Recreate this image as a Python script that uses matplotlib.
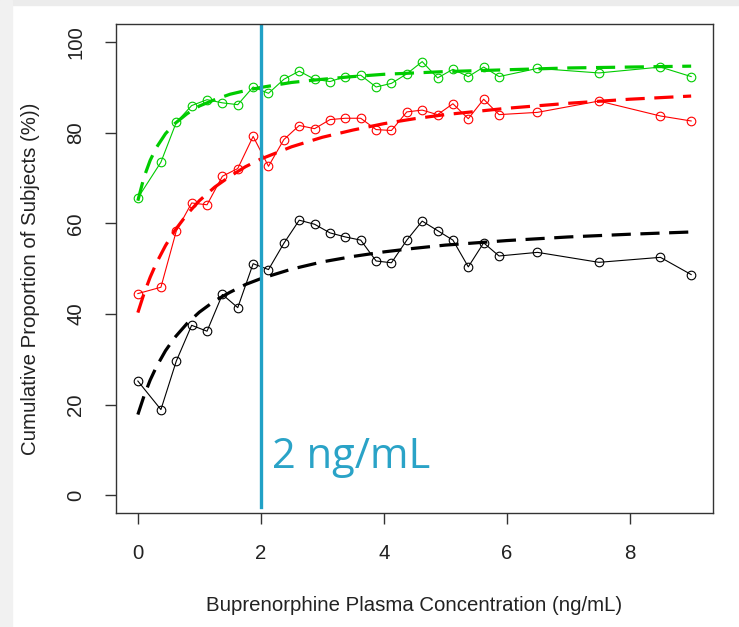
import numpy as np
import matplotlib
matplotlib.use('Agg')
import matplotlib.pyplot as plt
from matplotlib.patches import Rectangle

# observed cumulative proportions (%), binned concentrations (ng/mL)
conc = [0, 0.375, 0.625, 0.875, 1.125, 1.375, 1.625, 1.875, 2.125, 2.375,
        2.625, 2.875, 3.125, 3.375, 3.625, 3.875, 4.125, 4.375, 4.625, 4.875,
        5.125, 5.375, 5.625, 5.875, 6.5, 7.5, 8.5, 9.0]
green_obs = [65.6, 73.5, 82.3, 86.0, 87.3, 86.6, 86.2, 90.1, 88.7, 91.8,
             93.6, 91.8, 91.3, 92.4, 92.7, 90.1, 90.9, 93.0, 95.7, 92.1,
             94.0, 92.4, 94.5, 92.4, 94.2, 93.2, 94.5, 92.4]
red_obs = [44.5, 45.9, 58.3, 64.5, 64.1, 70.4, 72.1, 79.2, 72.6, 78.5,
           81.6, 80.9, 82.9, 83.2, 83.2, 80.7, 80.5, 84.6, 85.0, 84.0,
           86.4, 83.1, 87.4, 84.0, 84.5, 87.0, 83.7, 82.6]
black_obs = [25.2, 18.9, 29.6, 37.5, 36.2, 44.3, 41.4, 51.1, 49.8, 55.6,
             60.7, 59.8, 57.9, 57.0, 56.3, 51.7, 51.3, 56.3, 60.5, 58.4,
             56.3, 50.4, 55.7, 52.8, 53.6, 51.4, 52.5, 48.7]

# model-predicted curves (dashed)
fit_x = [0, 0.1, 0.2, 0.3, 0.45, 0.6, 0.8, 1.0, 1.25, 1.5, 1.75, 2.0,
         2.5, 3.0, 3.5, 4.0, 4.5, 5.0, 5.5, 6.0, 7.0, 8.0, 9.0]
green_fit = [65.0, 70.2, 73.9, 76.7, 79.8, 82.0, 84.2, 85.9, 87.3, 88.5, 89.3, 90.0,
             91.1, 91.8, 92.4, 92.9, 93.2, 93.5, 93.7, 93.9, 94.3, 94.5, 94.7]
red_fit = [40.3, 44.5, 48.1, 51.2, 55.1, 58.4, 62.0, 65.0, 68.0, 70.4, 72.5, 74.2,
           76.9, 79.0, 80.6, 82.0, 83.1, 84.0, 84.7, 85.4, 86.5, 87.4, 88.1]
black_fit = [17.8, 21.9, 25.4, 28.3, 31.9, 34.8, 37.9, 40.4, 42.9, 44.8, 46.5, 47.8,
             49.9, 51.5, 52.7, 53.7, 54.5, 55.2, 55.7, 56.2, 57.0, 57.6, 58.1]

xticks = [0, 2, 4, 6, 8]
yticks = [0, 20, 40, 60, 80, 100]

plt.rcParams['font.family'] = ['Liberation Sans', 'DejaVu Sans']

fig = plt.figure(figsize=(7.39, 6.27), dpi=100)
# light screenshot border
fig.patches.append(Rectangle((0, 1 - 5/627), 1, 5/627, transform=fig.transFigure,
                             color='#ececec', zorder=0))
fig.patches.append(Rectangle((0, 0), 12/739, 1, transform=fig.transFigure,
                             color='#f1f1f1', zorder=0))

ax = fig.add_axes([0.1566, 0.1813, 0.8086, 0.7804])

for obs, fit, col in [(green_obs, green_fit, '#00cc00'),
                      (red_obs, red_fit, '#ff0000'),
                      (black_obs, black_fit, '#000000')]:
    ax.plot(conc, obs, '-', color=col, lw=0.8, marker='o', ms=6.2,
            mfc='none', mec=col, mew=0.8)
    ax.plot(fit_x, fit, color=col, lw=2.3, dashes=(6, 3))

ax.axvline(2, ymin=0.012, ymax=1, color='#21a1c6', lw=2.4)
ax.text(2.19, 6.1, '2 ng/mL', color='#2aa3c7', fontsize=30,
        family=['Open Sans', 'DejaVu Sans'], ha='left', va='baseline')

ax.set_xlim(-0.36, 9.36)
ax.set_ylim(-4, 104)
ax.set_xticks(xticks)
ax.set_yticks(yticks)
ax.set_yticklabels([str(t) for t in yticks], rotation=90, va='center')
ax.tick_params(direction='out', length=8, width=1, color='#333333',
               labelsize=14.7, labelcolor='#222222', pad=14)
for s in ax.spines.values():
    s.set_color('#333333')
    s.set_linewidth(1.0)

ax.set_xlabel('Buprenorphine Plasma Concentration (ng/mL)', fontsize=14.7, color='#222222')
ax.set_ylabel('Cumulative Proportion of Subjects (%))', fontsize=14.7, color='#222222')
ax.xaxis.set_label_coords(0.5, -0.1874)
ax.xaxis.label.set_va('center')
ax.yaxis.set_label_coords(-0.1434, 0.48)
ax.yaxis.label.set_va('center')

fig.savefig('out.png', dpi=100)
